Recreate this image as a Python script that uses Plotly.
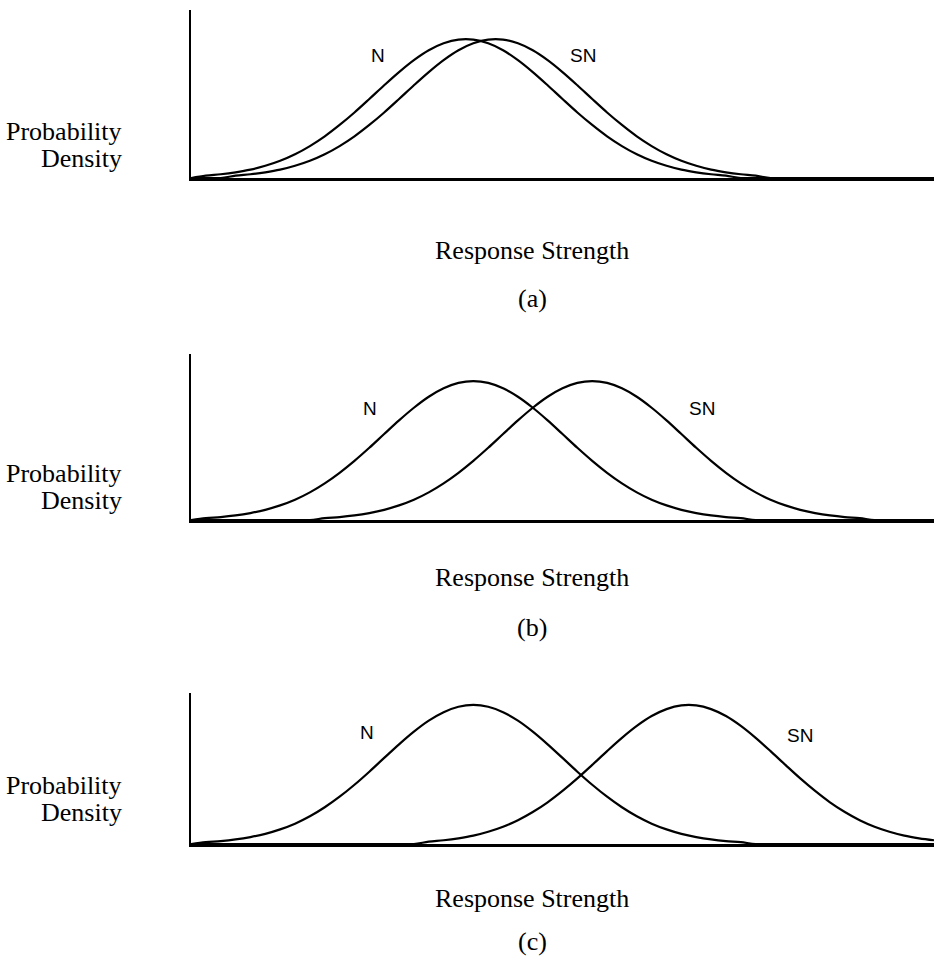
import plotly.graph_objects as go

# ---- data (response strength 0..100, relative density) ----
x_grid = [0, 2, 4, 6, 8, 10, 12, 14, 16, 18, 20, 22, 24, 26, 28, 30, 32, 34, 36, 38, 40,
          42, 44, 46, 48, 50, 52, 54, 56, 58, 60, 62, 64, 66, 68, 70, 72, 74, 76, 78, 80,
          82, 84, 86, 88, 90, 92, 94, 96, 98, 100]

n_a = [0, 0.017, 0.027, 0.041, 0.060, 0.088, 0.124, 0.171, 0.230, 0.300, 0.382, 0.472, 0.569, 0.668, 0.763,
       0.849, 0.920, 0.970, 0.997,
       0.997, 0.970, 0.920, 0.849, 0.763, 0.668, 0.569, 0.472, 0.382, 0.300, 0.230, 0.171, 0.124, 0.088,
       0.060, 0.041, 0.027, 0.017,
       0, 0, 0, 0, 0, 0, 0, 0, 0, 0, 0, 0, 0, 0]
sn_a = [0, 0, 0, 0.017, 0.027, 0.041, 0.060, 0.088, 0.124, 0.171, 0.230, 0.300, 0.382, 0.472, 0.569, 0.668,
        0.763, 0.849, 0.920, 0.970, 0.997,
        0.997, 0.970, 0.920, 0.849, 0.763, 0.668, 0.569, 0.472, 0.382, 0.300, 0.230, 0.171, 0.124, 0.088,
        0.060, 0.041, 0.027, 0.017,
        0, 0, 0, 0, 0, 0, 0, 0, 0, 0, 0, 0]

n_b = [0, 0.013, 0.021, 0.033, 0.050, 0.073, 0.105, 0.146, 0.199, 0.264, 0.340, 0.426, 0.520, 0.619, 0.717,
       0.808, 0.887, 0.948, 0.987, 1.000, 0.987, 0.948, 0.887, 0.808, 0.717, 0.619, 0.520, 0.426, 0.340,
       0.264, 0.199, 0.146, 0.105, 0.073, 0.050, 0.033, 0.021, 0.013,
       0, 0, 0, 0, 0, 0, 0, 0, 0, 0, 0, 0, 0]
sn_b = [0, 0, 0, 0, 0, 0, 0, 0, 0, 0.013, 0.021, 0.033, 0.050, 0.073, 0.105, 0.146, 0.199, 0.264, 0.340,
        0.426, 0.520, 0.619, 0.717, 0.808, 0.887, 0.948, 0.987, 1.000, 0.987, 0.948, 0.887, 0.808, 0.717,
        0.619, 0.520, 0.426, 0.340, 0.264, 0.199, 0.146, 0.105, 0.073, 0.050, 0.033, 0.021, 0.013,
        0, 0, 0, 0, 0]

n_c = [0, 0.013, 0.021, 0.033, 0.050, 0.073, 0.105, 0.146, 0.199, 0.264, 0.340, 0.426, 0.520, 0.619, 0.717,
       0.808, 0.887, 0.948, 0.987, 1.000, 0.987, 0.948, 0.887, 0.808, 0.717, 0.619, 0.520, 0.426, 0.340,
       0.264, 0.199, 0.146, 0.105, 0.073, 0.050, 0.033, 0.021, 0.013,
       0, 0, 0, 0, 0, 0, 0, 0, 0, 0, 0, 0, 0]
sn_c = [0, 0, 0, 0, 0, 0, 0, 0, 0, 0, 0, 0, 0, 0, 0, 0, 0.017, 0.027, 0.041, 0.060, 0.088, 0.124, 0.171,
        0.230, 0.300, 0.382, 0.472, 0.569, 0.668, 0.763, 0.849, 0.920, 0.970, 0.997,
        0.997, 0.970, 0.920, 0.849, 0.763, 0.668, 0.569, 0.472, 0.382, 0.300, 0.230, 0.171, 0.124, 0.088,
        0.060, 0.041, 0.027]

panel_tags = ["(a)", "(b)", "(c)"]
curve_names = ["N", "SN"]
y_label_lines = ["Probability", "Density"]
x_label = "Response Strength"

# ---- layout helpers (pixel -> paper) ----
W, H = 934, 964
def px(x):
    return x / W
def py(y):
    return 1 - y / H

SERIF = "Liberation Serif"
SANS = "Liberation Sans"

fig = go.Figure()

panels = [
    dict(n=n_a, sn=sn_a, bottom=178, top=10, yr=1.21,
         ylab=(132, 159), xlab=251, tag=298, nlab=(378, 55), snlab=(583, 55)),
    dict(n=n_b, sn=sn_b, bottom=520, top=354, yr=1.195,
         ylab=(473, 500), xlab=577, tag=627, nlab=(370, 408), snlab=(702, 408)),
    dict(n=n_c, sn=sn_c, bottom=844, top=693, yr=1.086,
         ylab=(785, 812), xlab=898, tag=941, nlab=(367, 732), snlab=(800, 735)),
]

annotations = []
for i, p in enumerate(panels):
    k = "" if i == 0 else str(i + 1)
    for name, ys in zip(curve_names, (p["n"], p["sn"])):
        fig.add_trace(go.Scatter(
            x=x_grid, y=ys, mode="lines", name=name,
            line=dict(color="black", width=2.2, shape="spline", smoothing=1.0),
            xaxis="x" + k, yaxis="y" + k, hoverinfo="skip", showlegend=False,
        ))
    axis_common = dict(showline=True, linecolor="black", showgrid=False,
                       zeroline=False, showticklabels=False, ticks="", fixedrange=True)
    fig.layout["xaxis" + k] = dict(domain=[px(191), 1.0], range=[0, 100],
                                   anchor="y" + k, linewidth=2.5, **axis_common)
    fig.layout["yaxis" + k] = dict(domain=[py(p["bottom"]), py(p["top"])],
                                   range=[0, p["yr"]], anchor="x" + k,
                                   linewidth=2, **axis_common)
    for line_txt, yy in zip(y_label_lines, p["ylab"]):
        annotations.append(dict(text=line_txt, x=px(124), y=py(yy), xref="paper", yref="paper",
                                xanchor="right", yanchor="middle", showarrow=False,
                                font=dict(family=SERIF, size=26, color="black")))
    annotations.append(dict(text=x_label, x=px(532), y=py(p["xlab"]), xref="paper", yref="paper",
                            xanchor="center", yanchor="middle", showarrow=False,
                            font=dict(family=SERIF, size=26, color="black")))
    annotations.append(dict(text=panel_tags[i], x=px(532), y=py(p["tag"]), xref="paper", yref="paper",
                            xanchor="center", yanchor="middle", showarrow=False,
                            font=dict(family=SERIF, size=26, color="black")))
    for name, pos in zip(curve_names, (p["nlab"], p["snlab"])):
        annotations.append(dict(text=name, x=px(pos[0]), y=py(pos[1]), xref="paper", yref="paper",
                                xanchor="center", yanchor="middle", showarrow=False,
                                font=dict(family=SANS, size=19, color="black")))

fig.update_layout(
    width=W, height=H,
    margin=dict(l=0, r=0, t=0, b=0),
    paper_bgcolor="white", plot_bgcolor="white",
    annotations=annotations, showlegend=False, hovermode=False,
)

fig.write_html("out.html", config={"displayModeBar": False},
               post_script="document.body.style.margin='0';document.body.style.overflow='hidden';")
